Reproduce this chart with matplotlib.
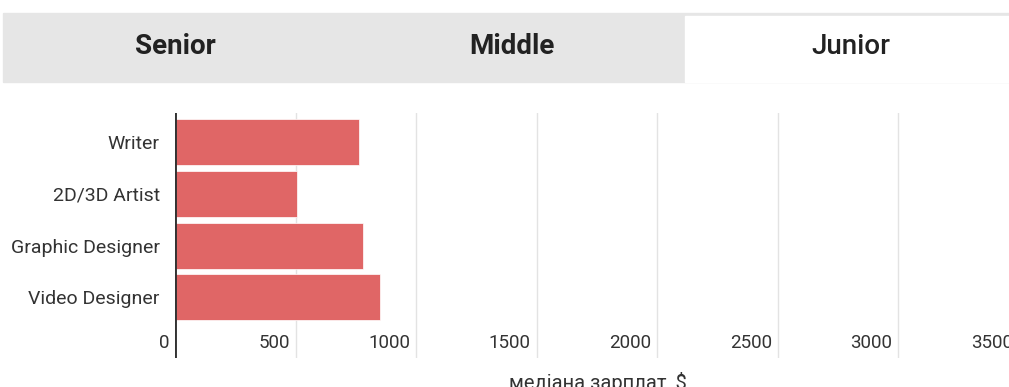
import matplotlib.pyplot as plt
from matplotlib.patches import Rectangle
from matplotlib.transforms import blended_transform_factory, offset_copy

plt.rcParams['font.family'] = ['Roboto', 'DejaVu Sans']

# data
roles = ['Writer', '2D/3D Artist', 'Graphic Designer', 'Video Designer']
salary = [763, 505, 780, 850]
ticks = [0, 500, 1000, 1500, 2000, 2500, 3000, 3500]
tabs = ['Senior', 'Middle', 'Junior']

W, H = 1009, 387
fig = plt.figure(figsize=(W / 100, H / 100), dpi=100)

# tab bar on top
fig.patches.append(Rectangle((3 / W, 1 - 82 / H), (W - 3) / W, 69 / H,
                             transform=fig.transFigure, color='#e6e6e6', zorder=0))
fig.patches.append(Rectangle((685 / W, 1 - 82 / H), (W - 685) / W, 66 / H,
                             transform=fig.transFigure, color='white', zorder=1))
tab_x = [175, 512, 851]
for i, t in enumerate(tabs):
    fig.text(tab_x[i] / W, 1 - 47 / H, t, ha='center', va='center', fontsize=20,
             weight='bold' if i < 2 else 'medium', color='#222222', zorder=2)

ax = fig.add_axes([175 / W, (H - 358) / H, (1019 - 175) / W, (358 - 113) / H])
y = range(len(roles))
ax.barh(y, salary, height=0.885, color='#e06666', edgecolor='white', linewidth=0.5, zorder=3)
ax.set_xlim(0, 3500)
ax.set_ylim(4.17, -0.56)
ax.set_yticks(list(y))
ax.set_yticklabels(roles, fontsize=14, color='#333333')
ax.tick_params(axis='y', length=0, pad=11)
ax.set_xticks(ticks)
ax.tick_params(axis='x', length=0, labelbottom=False)
ax.grid(axis='x', color='#e3e3e3', linewidth=1, zorder=0)
for s in ax.spines.values():
    s.set_visible(False)
ax.axvline(0, color='#333333', linewidth=2.8, zorder=4)

tr = offset_copy(blended_transform_factory(ax.transData, ax.transAxes), fig=fig, x=-6, y=15, units='dots')
for t in ticks:
    ax.text(t, 0, str(t), transform=tr, ha='right', va='center', fontsize=13.5, color='#333333', clip_on=False)

fig.text(598 / W, 1 - 372 / H, 'медіана зарплат, $', ha='center', va='top', fontsize=14.5, color='#333333')

fig.savefig('out.png', dpi=100)
